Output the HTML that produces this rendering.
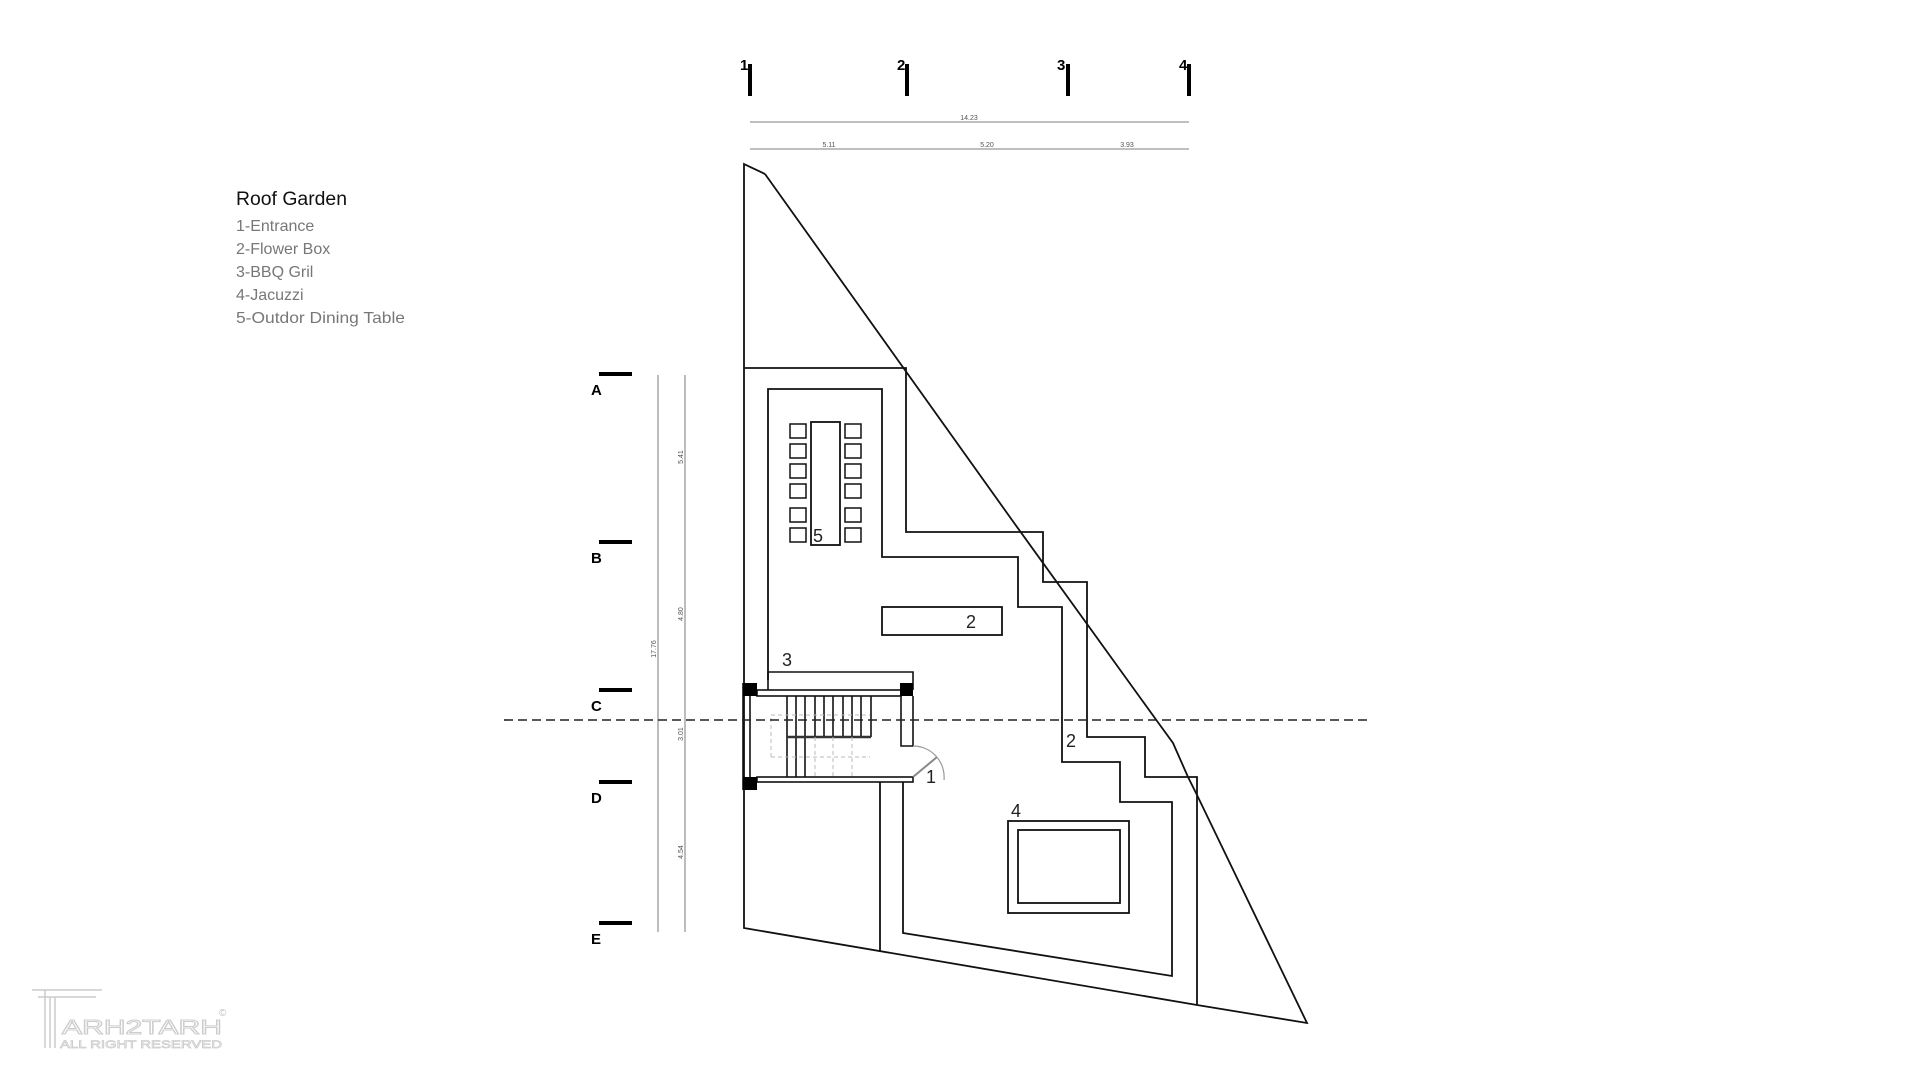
<!DOCTYPE html>
<html><head><meta charset="utf-8"><style>
html,body{margin:0;padding:0;background:#fff;}
svg{display:block;}
text{font-family:"Liberation Sans",sans-serif;}
</style></head><body>
<svg width="1919" height="1080" viewBox="0 0 1919 1080" xmlns="http://www.w3.org/2000/svg">
<rect width="1919" height="1080" fill="#fff"/>
<!-- legend -->
<text x="236" y="205" font-size="19" fill="#111" textLength="111" lengthAdjust="spacingAndGlyphs">Roof Garden</text>
<g font-size="16" fill="#777">
<text x="236" y="231">1-Entrance</text>
<text x="236" y="254">2-Flower Box</text>
<text x="236" y="277">3-BBQ Gril</text>
<text x="236" y="300">4-Jacuzzi</text>
<text x="236" y="323" textLength="169" lengthAdjust="spacingAndGlyphs">5-Outdor Dining Table</text>
</g>
<!-- column grid -->
<g fill="#000">
<rect x="748" y="64" width="4" height="32"/><rect x="905" y="64" width="4" height="32"/>
<rect x="1066" y="64" width="4" height="32"/><rect x="1187" y="64" width="4" height="32"/>
</g>
<g font-size="15" font-weight="bold" fill="#000">
<text x="740" y="70">1</text><text x="897" y="70">2</text><text x="1057" y="70">3</text><text x="1179" y="70">4</text>
</g>
<g stroke="#999" stroke-width="1.3">
<line x1="750" y1="122" x2="1189" y2="122"/>
<line x1="750" y1="149" x2="1189" y2="149"/>
</g>
<g font-size="7" fill="#555" text-anchor="middle">
<text x="969" y="120">14.23</text>
<text x="829" y="147">5.11</text><text x="987" y="147">5.20</text><text x="1127" y="147">3.93</text>
</g>
<!-- row grid -->
<g fill="#000">
<rect x="599" y="372" width="33" height="4"/><rect x="599" y="540" width="33" height="4"/>
<rect x="599" y="688" width="33" height="4"/><rect x="599" y="780" width="33" height="4"/>
<rect x="599" y="921" width="33" height="4"/>
</g>
<g font-size="15" font-weight="bold" fill="#000">
<text x="591" y="395">A</text><text x="591" y="563">B</text><text x="591" y="711">C</text><text x="591" y="803">D</text><text x="591" y="944">E</text>
</g>
<g stroke="#999" stroke-width="1.3">
<line x1="658" y1="375" x2="658" y2="932"/>
<line x1="685" y1="375" x2="685" y2="932"/>
</g>
<g font-size="7" fill="#555" text-anchor="middle">
<text transform="translate(683,457) rotate(-90)">5.41</text>
<text transform="translate(683,614) rotate(-90)">4.80</text>
<text transform="translate(683,734) rotate(-90)">3.01</text>
<text transform="translate(683,852) rotate(-90)">4.54</text>
<text transform="translate(656,649) rotate(-90)">17.76</text>
</g>
<!-- plan -->
<g fill="none" stroke="#111" stroke-width="1.8">
<polyline points="765,174 744,164 744,928 1197,1005 1307,1023 1197,795 1188,777 1173,743 1157,721 1012,520 765,174"/>
<polyline points="744,368 906,368 906,532 1043,532 1043,582 1087,582 1087,737 1145,737 1145,777 1197,777 1197,1005"/>
<polyline points="768,680 768,389 882,389 882,557 1018,557 1018,607 1062,607 1062,762 1120,762 1120,802 1172,802 1172,976 903,933 903,782"/>
<line x1="880" y1="782" x2="880" y2="952"/>
<rect x="882" y="607" width="120" height="28"/>
<rect x="1008" y="821" width="121" height="92"/>
<rect x="1018" y="830" width="102" height="73"/>
<rect x="811" y="422" width="29" height="123"/>
</g>
<g fill="none" stroke="#111" stroke-width="1.5">
<rect x="790" y="424" width="16" height="14"/><rect x="790" y="444" width="16" height="14"/><rect x="790" y="464" width="16" height="14"/>
<rect x="790" y="484" width="16" height="14"/><rect x="790" y="508" width="16" height="14"/><rect x="790" y="528" width="16" height="14"/>
<rect x="845" y="424" width="16" height="14"/><rect x="845" y="444" width="16" height="14"/><rect x="845" y="464" width="16" height="14"/>
<rect x="845" y="484" width="16" height="14"/><rect x="845" y="508" width="16" height="14"/><rect x="845" y="528" width="16" height="14"/>
</g>
<!-- stairs -->
<g fill="none" stroke="#111" stroke-width="1.6">
<polyline points="768,690 768,672 913,672 913,690"/>
<rect x="757" y="690" width="144" height="6"/>
<line x1="743" y1="683" x2="743" y2="790"/><line x1="750" y1="696" x2="750" y2="777"/>
<polyline points="901,696 901,746 913,746 913,696"/>
<rect x="757" y="777" width="156" height="5"/>
<line x1="787" y1="696" x2="787" y2="777"/><line x1="796" y1="696" x2="796" y2="777"/><line x1="805" y1="696" x2="805" y2="777"/>
<line x1="815" y1="696" x2="815" y2="737"/><line x1="824" y1="696" x2="824" y2="737"/><line x1="833" y1="696" x2="833" y2="737"/>
<line x1="843" y1="696" x2="843" y2="737"/><line x1="852" y1="696" x2="852" y2="737"/><line x1="861" y1="696" x2="861" y2="737"/>
<line x1="871" y1="696" x2="871" y2="737"/>
</g>
<line x1="787" y1="737" x2="871" y2="737" stroke="#333" stroke-width="2.5"/>
<g fill="none" stroke="#bbb" stroke-width="1" stroke-dasharray="4,3">
<polyline points="771,757 771,715 870,715"/><polyline points="771,757 870,757"/>
<line x1="815" y1="737" x2="815" y2="777"/><line x1="833" y1="737" x2="833" y2="777"/><line x1="852" y1="737" x2="852" y2="777"/>
</g>
<g fill="#000">
<rect x="743" y="683" width="14" height="13"/><rect x="900" y="683" width="13" height="13"/><rect x="743" y="777" width="14" height="13"/>
</g>
<line x1="913" y1="777" x2="937" y2="757" stroke="#888" stroke-width="2"/>
<path d="M913,746 A31,31 0 0 1 944,780" fill="none" stroke="#999" stroke-width="1.2"/>
<!-- section line -->
<line x1="504" y1="720" x2="1367" y2="720" stroke="#222" stroke-width="1.6" stroke-dasharray="9,5"/>
<!-- labels -->
<g font-size="18" fill="#222">
<text x="782" y="666">3</text><text x="813" y="542">5</text><text x="966" y="628">2</text>
<text x="1066" y="747">2</text><text x="926" y="783">1</text><text x="1011" y="817">4</text>
</g>
<!-- logo -->
<g fill="none" stroke="#ccc" stroke-width="1.5">
<path d="M32,990 H102 M38,997 H96 M45,990 V1048 M50,997 V1048 M55,997 V1048"/>
</g>
<text x="62" y="1034" font-size="20" fill="#fff" stroke="#ccc" stroke-width="1" textLength="160" lengthAdjust="spacingAndGlyphs">ARH2TARH</text>
<text x="60" y="1048" font-size="11" fill="#fff" stroke="#ccc" stroke-width="0.7" textLength="162" lengthAdjust="spacingAndGlyphs">ALL RIGHT RESERVED</text>
<text x="219" y="1016" font-size="10" fill="#bbb">©</text>
</svg>
</body></html>
